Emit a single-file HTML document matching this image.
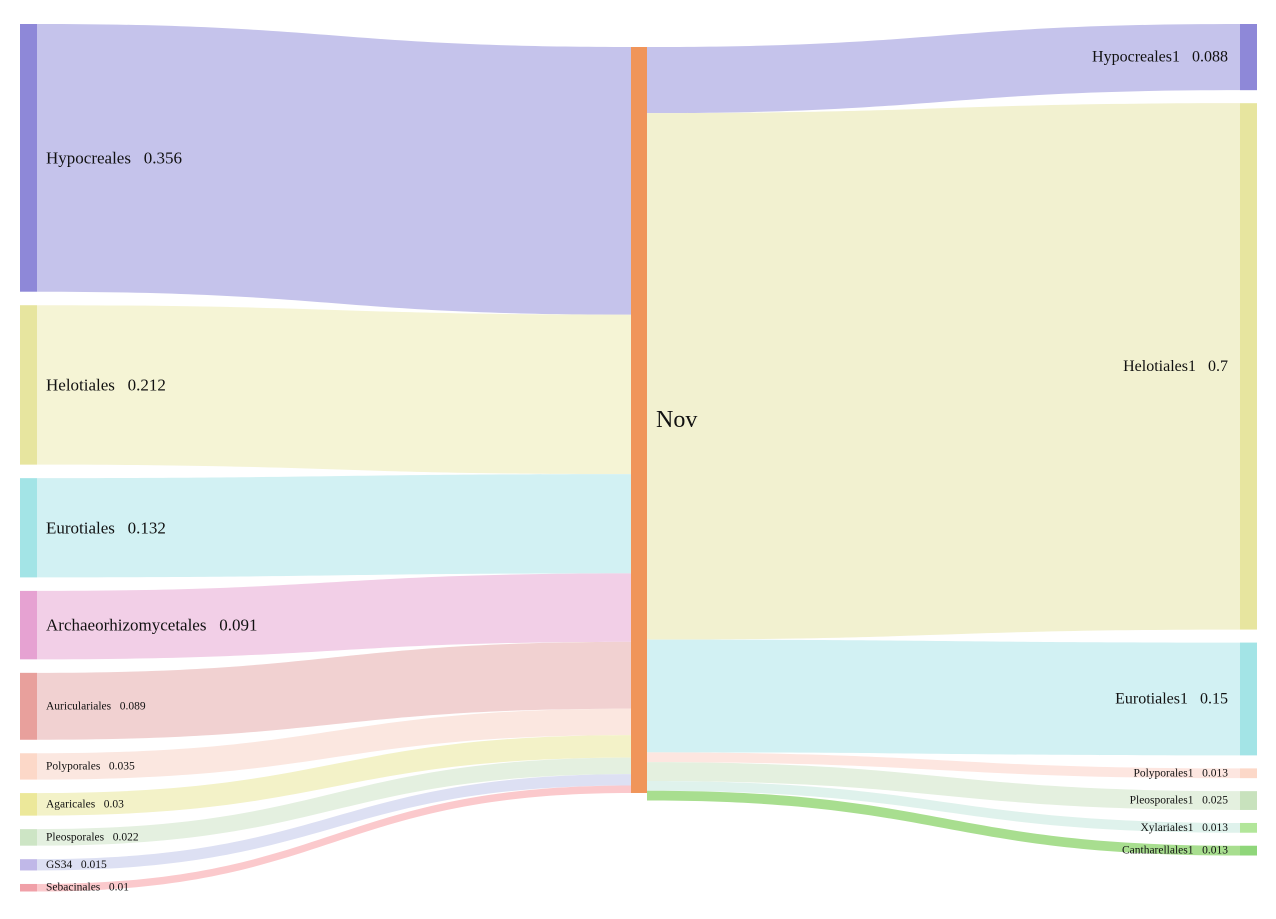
<!DOCTYPE html>
<html><head><meta charset="utf-8">
<style>
html,body{margin:0;padding:0;background:#fff;}
svg{display:block;font-family:"Liberation Serif",serif;}
</style></head>
<body>
<svg id="chart" width="1276" height="919" viewBox="0 0 1276 919" xmlns="http://www.w3.org/2000/svg">
<g id="links"></g>
<g id="nodes"></g>
<g id="labels"></g>
</svg>
<script>
const leftNames = ["Hypocreales","Helotiales","Eurotiales","Archaeorhizomycetales","Auriculariales","Polyporales","Agaricales","Pleosporales","GS34","Sebacinales"];
const leftValues = [0.356,0.212,0.132,0.091,0.089,0.035,0.03,0.022,0.015,0.01];
const leftColors = ["#8e88d8","#e7e59f","#a3e4e6","#e6a2d2","#e8a09c","#fcd8c8","#ece89a","#cde5c5","#c0b8e8","#f0a0a8"];
const leftLinkColors = ["#c5c3eb","#f5f4d5","#d2f1f3","#f2cfe7","#f1d1d1","#fbe7e0","#f3f2c8","#e4f0e0","#dde0f3","#fbc9cc"];
const rightNames = ["Hypocreales1","Helotiales1","Eurotiales1","Polyporales1","Pleosporales1","Xylariales1","Cantharellales1"];
const rightValues = [0.088,0.7,0.15,0.013,0.025,0.013,0.013];
const rightColors = ["#8e88d8","#e7e59f","#a3e4e6","#fcd8c8","#c8e2bd","#b2e69a","#8fd67a"];
const rightLinkColors = ["#c5c3eb","#f2f1d0","#d2f1f3","#fde6e0","#e4f0df","#dff2ec","#a8de8f"];
const midName = "Nov";

const NS = "http://www.w3.org/2000/svg";
const scale = 752;
const top0 = 24, midTop = 47;
const leftX = 20, nodeW = 17, midX = 631, rightX = 1240;
const gapL = 13.5, gapR = 13;
const linksG = document.getElementById('links');
const nodesG = document.getElementById('nodes');
const labelsG = document.getElementById('labels');

function mk(tag, attrs, parent){const e=document.createElementNS(NS,tag);for(const k in attrs)e.setAttribute(k,attrs[k]);parent.appendChild(e);return e;}
function band(x0,y0,x1,y1,h){
  const xm=(x0+x1)/2;
  return `M${x0},${y0} C${xm},${y0} ${xm},${y1} ${x1},${y1} L${x1},${y1+h} C${xm},${y1+h} ${xm},${y0+h} ${x0},${y0+h} Z`;
}

// left side
let y = top0, my = midTop;
leftNames.forEach((n,i)=>{
  const h = leftValues[i]*scale;
  const p = mk('path',{d:band(leftX+nodeW,y,midX,my,h),fill:leftLinkColors[i]},linksG);
  
  
  const r = mk('rect',{x:leftX,y:y,width:nodeW,height:h,fill:leftColors[i]},nodesG);
  
  
  const big = leftValues[i]>=0.09;
  const t = mk('text',{x:46,y:y+h/2,'font-size':big?17:11.5,'dominant-baseline':'central',fill:'#111'},labelsG);
  t.textContent = n+"\u00a0\u00a0 "+leftValues[i];
  
  
  y += h + gapL; my += h;
});
const midH = my - midTop;
const mr = mk('rect',{x:midX,y:midTop,width:16,height:midH,fill:'#f0955a'},nodesG);


const mt = mk('text',{x:656,y:midTop+midH/2,'font-size':24,'dominant-baseline':'central',fill:'#111'},labelsG);
mt.textContent = midName;



// right side
y = top0; my = midTop;
rightNames.forEach((n,i)=>{
  const h = rightValues[i]*scale;
  const p = mk('path',{d:band(midX+16,my,rightX,y,h),fill:rightLinkColors[i]},linksG);
  
  
  const r = mk('rect',{x:rightX,y:y,width:nodeW,height:h,fill:rightColors[i]},nodesG);
  
  
  const big = rightValues[i]>=0.05;
  const t = mk('text',{x:1228,y:y+h/2,'font-size':big?16:11.5,'text-anchor':'end','dominant-baseline':'central',fill:'#111'},labelsG);
  t.textContent = n+"\u00a0\u00a0 "+rightValues[i];
  
  
  y += h + gapR; my += h;
});
</script>
</body></html>
